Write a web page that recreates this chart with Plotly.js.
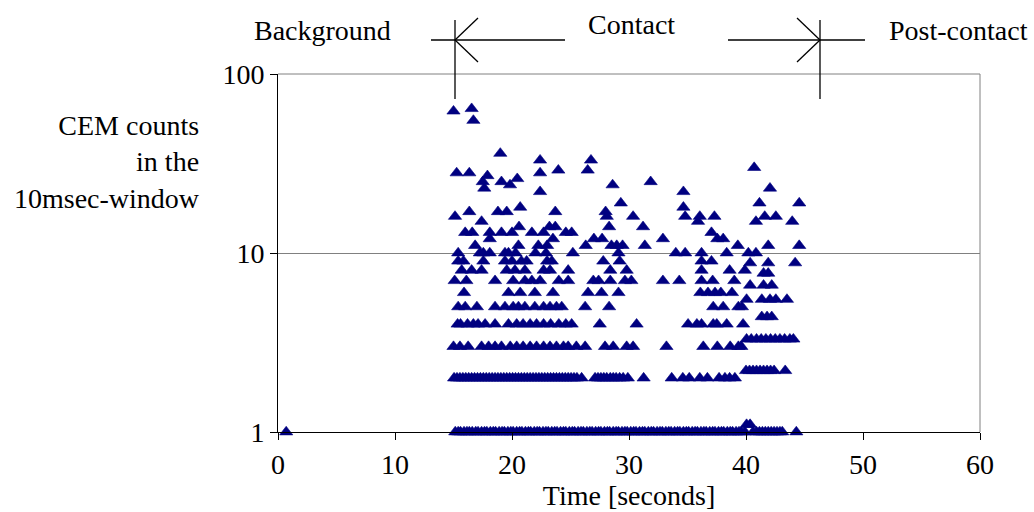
<!DOCTYPE html>
<html>
<head>
<meta charset="utf-8">
<script src="https://cdn.plot.ly/plotly-3.0.1.min.js"></script>
<style>html,body{margin:0;padding:0;background:#fff;}#chart{width:1034px;height:512px;}</style>
</head>
<body>
<div id="chart"></div>
<script>
// ---- Data (time in seconds, CEM counts per 10 ms window) ----
const timesCount1 = [0.7, 15.15, 15.4, 15.6, 15.9, 16.15, 16.35, 16.6, 16.9, 17.1, 17.4, 17.65, 17.85, 18.15, 18.4, 18.6, 18.9, 19.15, 19.35, 19.65, 19.9, 20.1, 20.4, 20.65, 20.85, 21.15, 21.4, 21.6, 21.9, 22.15, 22.35, 22.65, 22.9, 23.1, 23.4, 23.65, 23.85, 24.15, 24.4, 24.6, 24.9, 25.15, 25.35, 25.65, 25.9, 26.1, 26.4, 26.65, 26.85, 27.15, 27.4, 27.6, 27.9, 28.15, 28.35, 28.65, 28.9, 29.1, 29.4, 29.65, 29.85, 30.15, 30.4, 30.6, 30.9, 31.15, 31.35, 31.65, 31.9, 32.1, 32.4, 32.65, 32.85, 33.15, 33.4, 33.6, 33.9, 34.15, 34.35, 34.65, 34.9, 35.1, 35.4, 35.65, 35.85, 36.15, 36.4, 36.6, 36.9, 37.15, 37.35, 37.65, 37.9, 38.1, 38.4, 38.65, 38.85, 39.15, 39.4, 39.6, 39.9, 40.6, 40.9, 41.15, 41.4, 41.65, 41.9, 42.15, 42.4, 42.65, 42.9, 43.1, 44.3];
const timesCount1_1 = [40.05, 40.35];
const timesCount0_96 = [43.45];
const timesCount2 = [15.05, 15.3, 15.55, 15.8, 16.05, 16.3, 16.55, 16.8, 17.05, 17.3, 17.55, 17.8, 18.05, 18.3, 18.55, 18.8, 19.05, 19.3, 19.55, 19.8, 20.05, 20.3, 20.55, 20.8, 21.05, 21.3, 21.55, 21.8, 22.05, 22.3, 22.55, 22.8, 23.05, 23.3, 23.55, 23.8, 24.05, 24.3, 24.55, 24.8, 25.05, 25.3, 25.55, 25.95, 27.1, 27.35, 27.6, 27.85, 28.1, 28.4, 28.65, 28.9, 29.2, 29.5, 29.9, 31.25, 33.65, 34.6, 35.15, 36.05, 36.7, 37.7, 38.2, 38.6, 39.05];
const timesCount2_2 = [40.0, 40.3, 40.6, 40.9, 41.2, 41.5, 41.8, 42.1, 42.4, 43.35];
const timesCount3 = [15.0, 15.55, 16.25, 17.4, 18.0, 18.55, 19.1, 19.85, 20.4, 20.95, 21.55, 22.1, 22.7, 23.25, 23.8, 24.4, 24.8, 25.5, 26.25, 27.95, 28.65, 29.8, 30.35, 33.2, 36.35, 37.55, 38.65, 39.35, 39.6];
const timesCount3_3 = [40.05, 40.45, 40.9, 41.3, 41.7, 42.1, 42.5, 42.9, 43.3, 43.75, 44.05];
const timesCount4 = [15.35, 15.6, 16.2, 16.7, 17.1, 17.7, 18.55, 19.7, 20.4, 20.95, 21.55, 22.1, 22.7, 23.3, 24.0, 24.6, 25.1, 27.5, 30.65, 35.05, 35.8, 36.2, 37.2, 37.5, 38.35, 39.75];
const timesCount4_4 = [41.35, 41.8, 42.2];
const timesCount5 = [15.4, 16.0, 17.0, 18.55, 19.4, 20.1, 20.55, 21.1, 21.95, 22.7, 23.25, 23.8, 24.25, 26.25, 28.3, 37.2, 38.05, 39.35, 39.65];
const timesCount5_5 = [40.05, 41.35, 42.05, 42.55, 43.5];
const timesCount6 = [15.9, 19.7, 20.7, 21.95, 23.5, 26.5, 27.65, 29.1, 36.1, 36.75, 37.35, 37.85, 38.8];
const timesCount6_6 = [40.35, 41.5, 42.2];
const timesCount7 = [15.1, 16.1, 18.55, 20.1, 21.1, 21.7, 22.4, 24.0, 24.8, 26.95, 27.4, 28.4, 29.65, 30.2, 32.9, 34.3, 36.2, 37.15, 39.0];
const timesCount7_7 = [41.5, 41.9];
const timesCount8 = [15.7, 16.55, 17.4, 19.55, 20.25, 21.1, 22.7, 23.25, 24.8, 28.4, 29.8, 36.2, 38.6, 39.9];
const timesCount9 = [15.4, 15.85, 17.55, 19.4, 20.0, 20.8, 21.25, 23.0, 23.4, 27.8, 29.2, 36.2, 37.05];
const timesCount8_8 = [40.35, 41.9, 44.2];
const timesCount10 = [15.4, 17.25, 17.55, 18.1, 19.4, 19.7, 20.3, 22.0, 22.9, 25.2, 29.1, 34.0, 34.8, 36.2, 38.35, 40.2, 40.85];
const timesCount11 = [16.85, 20.55, 22.25, 23.0, 26.3, 28.5, 28.95, 29.45, 31.35, 39.3, 41.9, 44.55];
const highTimes  = [15.0, 16.55, 16.7, 19.0, 15.27, 16.35, 17.9, 17.5, 17.63, 19.1, 19.83, 20.45, 22.4, 22.4, 22.4, 23.96, 26.75, 26.47, 28.6, 31.85, 40.7, 42.05, 34.65, 15.13, 16.35, 18.8, 19.55, 20.7, 17.4, 16.0, 16.6, 18.1, 18.1, 19.1, 20.0, 20.6, 21.7, 22.7, 23.2, 23.7, 23.7, 24.6, 25.1, 23.5, 28.0, 28.1, 29.3, 30.35, 28.3, 27.0, 27.7, 34.65, 41.15, 44.55, 34.8, 36.05, 37.3, 35.9, 40.85, 41.6, 42.55, 43.95, 31.2, 37.05, 37.55, 38.05, 32.9];
const highCounts = [62, 64, 55, 36, 28, 28, 27, 25, 23, 25, 24, 26, 33, 28, 22, 29, 33, 29, 24, 25, 30, 23, 22, 16, 17, 17, 17, 18, 15, 13, 13, 13, 12, 13, 13, 14, 13, 13, 14, 14, 17, 13, 13, 12, 17, 16, 19, 16, 14, 12, 12, 18, 19, 19, 16, 16, 16, 15, 15, 16, 16, 15, 14, 13, 12, 12, 12];

const xTickVals = [0, 10, 20, 30, 40, 50, 60];
const yTickVals = [1, 10, 100];
const yTickText = ['1', '10', '100'];

// ---- Build the point list from the arrays ----
const levels = [
  [timesCount1, 1], [timesCount1_1, 1.1], [timesCount0_96, 0.96],
  [timesCount2, 2], [timesCount2_2, 2.2],
  [timesCount3, 3], [timesCount3_3, 3.3],
  [timesCount4, 4], [timesCount4_4, 4.4],
  [timesCount5, 5], [timesCount5_5, 5.5],
  [timesCount6, 6], [timesCount6_6, 6.6],
  [timesCount7, 7], [timesCount7_7, 7.7],
  [timesCount8, 8], [timesCount8_8, 8.8],
  [timesCount9, 9], [timesCount10, 10], [timesCount11, 11]
];
const xs = [], ys = [];
levels.forEach(([ts, c]) => ts.forEach(t => { xs.push(t); ys.push(c); }));
highTimes.forEach((t, i) => { xs.push(t); ys.push(highCounts[i]); });

const trace = {
  x: xs, y: ys, type: 'scatter', mode: 'markers',
  marker: { symbol: 'triangle-up', size: 11.5, color: '#000080', line: { color: '#000080', width: 0.6 } },
  hoverinfo: 'x+y', showlegend: false, cliponaxis: false
};

// pixel helpers for decorations (plot area 278..980 x 74..432)
const L = 278, R = 980, T = 74, B = 432;
const px = v => (v - L) / (R - L);
const py = v => (B - v) / (B - T);
const blk = { color: '#000', width: 1.3 };
const seg = (x0, y0, x1, y1, line) => ({ type: 'line', xref: 'paper', yref: 'paper', x0: px(x0), y0: py(y0), x1: px(x1), y1: py(y1), line: line || blk });

const shapes = [
  seg(L, T, R, T, { color: '#808080', width: 1 }),
  seg(R, T, R, B, { color: '#808080', width: 1 }),
  // Contact start marker
  seg(455, 20, 455, 99), seg(431, 40, 565, 40), seg(455, 40, 478, 18), seg(455, 40, 478, 62),
  // Contact end marker
  seg(820, 20, 820, 99), seg(728, 40, 865, 40), seg(820, 40, 797, 18), seg(820, 40, 797, 62)
];

const fnt = { family: 'Liberation Serif, Times New Roman, serif', size: 28, color: '#000' };
const annotations = [
  { text: 'Background', xref: 'paper', yref: 'paper', x: px(322), y: py(30), xanchor: 'center', yanchor: 'middle', showarrow: false, font: fnt },
  { text: 'Contact', xref: 'paper', yref: 'paper', x: px(631), y: py(25), xanchor: 'center', yanchor: 'middle', showarrow: false, font: fnt },
  { text: 'Post-contact', xref: 'paper', yref: 'paper', x: px(958), y: py(30), xanchor: 'center', yanchor: 'middle', showarrow: false, font: fnt },
  { text: 'CEM counts<br>in the<br>10msec-window', xref: 'paper', yref: 'paper', x: px(202), y: py(162), xanchor: 'right', yanchor: 'middle', align: 'right', showarrow: false, font: fnt }
];

const layout = {
  width: 1034, height: 512,
  margin: { l: 278, r: 54, t: 74, b: 80 },
  paper_bgcolor: '#fff', plot_bgcolor: '#fff',
  font: fnt,
  xaxis: {
    range: [0, 60], tickvals: xTickVals, ticks: 'outside', ticklen: 7, tickcolor: '#000', tickwidth: 1,
    showline: true, linecolor: '#000', linewidth: 1, showgrid: false, zeroline: false,
    tickfont: fnt, title: { text: 'Time [seconds]', font: fnt, standoff: 2 }
  },
  yaxis: {
    type: 'log', range: [0, 2], tickvals: yTickVals, ticktext: yTickText,
    ticks: 'outside', ticklen: 7, tickcolor: '#000', tickwidth: 1,
    showline: true, linecolor: '#000', linewidth: 1, showgrid: true, gridcolor: '#808080', gridwidth: 1,
    zeroline: false, tickfont: fnt
  },
  shapes: shapes, annotations: annotations
};

Plotly.newPlot('chart', [trace], layout, { staticPlot: true, displayModeBar: false });
</script>
</body>
</html>
